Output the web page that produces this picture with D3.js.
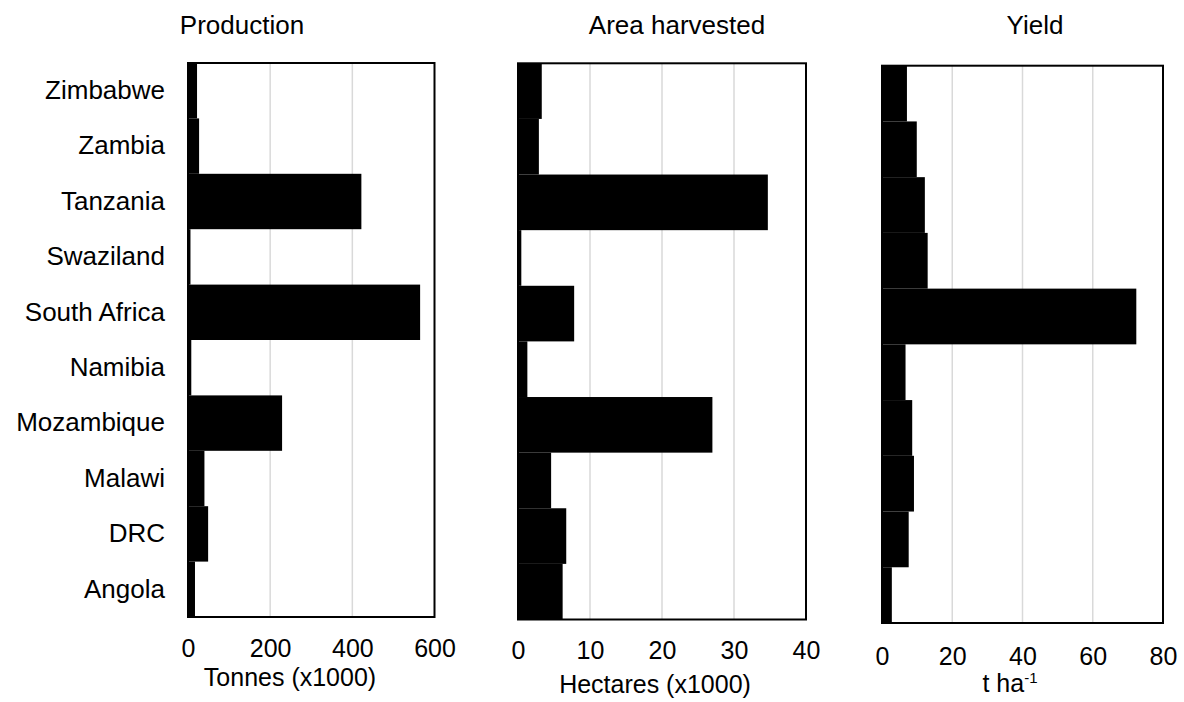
<!DOCTYPE html>
<html>
<head>
<meta charset="utf-8">
<script src="https://cdn.jsdelivr.net/npm/d3@7"></script>
<style>
  html, body { margin: 0; padding: 0; background: #fff; }
  svg { display: block; font-family: "Liberation Sans", Arial, sans-serif; }
</style>
</head>
<body>
<svg id="chart" width="1184" height="702"></svg>
<script>
// Countries listed top to bottom
const countries = ["Zimbabwe", "Zambia", "Tanzania", "Swaziland", "South Africa",
                   "Namibia", "Mozambique", "Malawi", "DRC", "Angola"];

// Production, tonnes (x1000)
const production = [22, 27, 422, 6, 565, 8, 229, 40, 49, 17];
// Area harvested, hectares (x1000)
const areaHarvested = [3.3, 2.9, 34.7, 0.46, 7.8, 1.3, 27.0, 4.6, 6.7, 6.2];
// Yield, t ha-1
const yieldValues = [7.1, 9.9, 12.2, 13.0, 72.4, 6.7, 8.6, 9.1, 7.6, 2.8];

// Axis ticks
const productionTicks = [0, 200, 400, 600];
const areaTicks = [0, 10, 20, 30, 40];
const yieldTicks = [0, 20, 40, 60, 80];

const svg = d3.select("#chart");
const labelSize = 26;
const tickSize = 25;

const panels = [
  { title: "Production", values: production, ticks: productionTicks,
    x0: 188, x1: 434.5, y0: 63, y1: 617, titleX: 242, axisTitleX: 290, axisTitleY: 686, tickY: 648,
    axisLabel: "Tonnes (x1000)" },
  { title: "Area harvested", values: areaHarvested, ticks: areaTicks,
    x0: 518, x1: 806, y0: 63.3, y1: 619.5, titleX: 677, axisTitleX: 655, axisTitleY: 693, tickY: 650,
    axisLabel: "Hectares (x1000)" },
  { title: "Yield", values: yieldValues, ticks: yieldTicks,
    x0: 882, x1: 1163, y0: 65.7, y1: 623, titleX: 1035, axisTitleX: 1010, axisTitleY: 692, tickY: 656,
    axisLabel: null }
];

panels.forEach((p, i) => {
  const x = d3.scaleLinear()
    .domain([p.ticks[0], p.ticks[p.ticks.length - 1]])
    .range([p.x0, p.x1]);
  const y = d3.scaleBand()
    .domain(countries)
    .range([p.y0, p.y1])
    .padding(0);

  const g = svg.append("g");

  // vertical gridlines at interior ticks
  g.selectAll("line.grid")
    .data(p.ticks.slice(1, -1))
    .join("line")
    .attr("class", "grid")
    .attr("x1", d => x(d)).attr("x2", d => x(d))
    .attr("y1", p.y0).attr("y2", p.y1)
    .attr("stroke", "#d9d9d9")
    .attr("stroke-width", 1.5);

  // bars
  g.selectAll("rect.bar")
    .data(countries.map((c, k) => ({ c, v: p.values[k] })))
    .join("rect")
    .attr("class", "bar")
    .attr("x", x(0))
    .attr("y", d => y(d.c))
    .attr("width", d => x(d.v) - x(0))
    .attr("height", y.bandwidth())
    .attr("fill", "#000");

  // plot frame
  g.append("rect")
    .attr("x", p.x0).attr("y", p.y0)
    .attr("width", p.x1 - p.x0).attr("height", p.y1 - p.y0)
    .attr("fill", "none")
    .attr("stroke", "#000")
    .attr("stroke-width", 2);

  // bottom tick labels
  const xAxis = d3.axisBottom(x).tickValues(p.ticks).tickSize(0).tickPadding(0);
  const ax = g.append("g")
    .attr("transform", `translate(0,${p.tickY})`)
    .call(xAxis);
  ax.select(".domain").remove();
  ax.selectAll("text")
    .attr("font-size", tickSize)
    .attr("font-family", "'Liberation Sans', Arial, sans-serif")
    .attr("fill", "#000")
    .attr("dy", "0.35em");

  // category labels on first panel
  if (i === 0) {
    const yAxis = d3.axisLeft(y).tickSize(0).tickPadding(p.x0 - 165);
    const ay = g.append("g")
      .attr("transform", `translate(${p.x0},0)`)
      .call(yAxis);
    ay.select(".domain").remove();
    ay.selectAll("text")
      .attr("font-size", labelSize)
      .attr("font-family", "'Liberation Sans', Arial, sans-serif")
      .attr("fill", "#000");
  }

  // panel title
  svg.append("text")
    .attr("x", p.titleX).attr("y", 25)
    .attr("dy", "0.35em")
    .attr("text-anchor", "middle")
    .attr("font-size", labelSize)
    .text(p.title);

  // axis title
  const t = svg.append("text")
    .attr("x", p.axisTitleX).attr("y", p.axisTitleY)
    .attr("text-anchor", "middle")
    .attr("font-size", tickSize);
  if (p.axisLabel) {
    t.text(p.axisLabel);
  } else {
    t.append("tspan").text("t ha");
    t.append("tspan").attr("font-size", tickSize * 0.6).attr("dy", -9).text("-1");
  }
});
</script>
</body>
</html>
